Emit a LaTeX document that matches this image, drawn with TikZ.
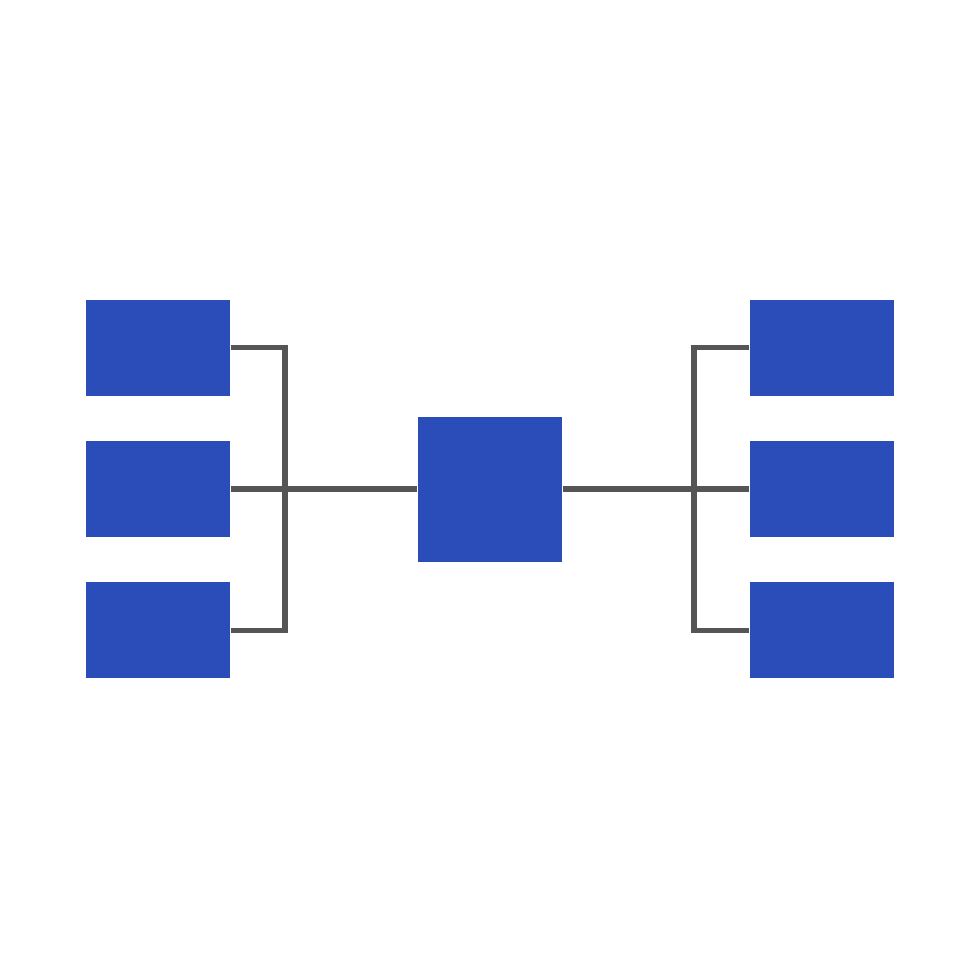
\documentclass[tikz,border=0pt]{standalone}
\usepackage{tikz}
\usetikzlibrary{positioning}
\definecolor{boxblue}{HTML}{2B4DB9}
\definecolor{wiregray}{HTML}{555555}
\tikzset{
  unitbox/.style={fill=boxblue,draw=none,inner sep=0pt,minimum width=1.44cm,minimum height=0.96cm},
  hubbox/.style={unitbox,minimum height=1.45cm},
  wire/.style={draw=wiregray,line width=1.45pt,line cap=butt,line join=miter}
}
\begin{document}
\begin{tikzpicture}[line join=round]
\useasboundingbox (0,0) rectangle (9.8,9.8);
\node[hubbox] (hub) at (4.90,4.91) {};
\node[unitbox] (l2) at (1.58,4.91) {};
\node[unitbox,above=0.44cm of l2] (l1) {};
\node[unitbox,below=0.44cm of l2] (l3) {};
\node[unitbox] (r2) at (8.22,4.91) {};
\node[unitbox,above=0.44cm of r2] (r1) {};
\node[unitbox,below=0.44cm of r2] (r3) {};
\coordinate (lbus) at (2.85,4.91);
\coordinate (rbus) at (6.94,4.91);
\draw [wire] (l1.east) -| (lbus) |- (l3.east);
\draw [wire] (l2.east) -- (hub.west);
\draw [wire] (r1.west) -| (rbus) |- (r3.west);
\draw [wire] (r2.west) -- (hub.east);
\end{tikzpicture}
\end{document}
